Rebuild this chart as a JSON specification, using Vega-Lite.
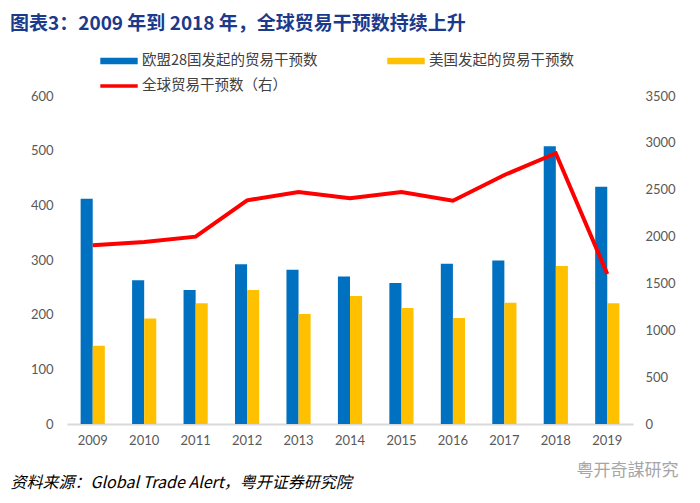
{
  "$schema": "https://vega.github.io/schema/vega-lite/v6.json",
  "width": 566,
  "height": 328,
  "autosize": {"type": "none"},
  "padding": {"left": 67, "top": 96, "right": 67, "bottom": 79},
  "background": "white",
  "title": {
    "text": "图表3：2009 年到 2018 年，全球贸易干预数持续上升",
    "anchor": "start",
    "frame": "group",
    "dx": -57,
    "dy": 19,
    "offset": 36,
    "font": "Noto Sans CJK SC",
    "fontSize": 19,
    "fontWeight": "bold",
    "color": "#1B3A8C"
  },
  "datasets": {
    "bars": [
      {"year": "2009", "series": "欧盟28国发起的贸易干预数", "value": 412},
      {"year": "2010", "series": "欧盟28国发起的贸易干预数", "value": 263},
      {"year": "2011", "series": "欧盟28国发起的贸易干预数", "value": 245},
      {"year": "2012", "series": "欧盟28国发起的贸易干预数", "value": 292},
      {"year": "2013", "series": "欧盟28国发起的贸易干预数", "value": 282},
      {"year": "2014", "series": "欧盟28国发起的贸易干预数", "value": 270},
      {"year": "2015", "series": "欧盟28国发起的贸易干预数", "value": 258},
      {"year": "2016", "series": "欧盟28国发起的贸易干预数", "value": 293},
      {"year": "2017", "series": "欧盟28国发起的贸易干预数", "value": 299},
      {"year": "2018", "series": "欧盟28国发起的贸易干预数", "value": 508},
      {"year": "2019", "series": "欧盟28国发起的贸易干预数", "value": 434},
      {"year": "2009", "series": "美国发起的贸易干预数", "value": 143},
      {"year": "2010", "series": "美国发起的贸易干预数", "value": 193},
      {"year": "2011", "series": "美国发起的贸易干预数", "value": 221},
      {"year": "2012", "series": "美国发起的贸易干预数", "value": 245},
      {"year": "2013", "series": "美国发起的贸易干预数", "value": 201},
      {"year": "2014", "series": "美国发起的贸易干预数", "value": 234},
      {"year": "2015", "series": "美国发起的贸易干预数", "value": 212},
      {"year": "2016", "series": "美国发起的贸易干预数", "value": 194},
      {"year": "2017", "series": "美国发起的贸易干预数", "value": 222},
      {"year": "2018", "series": "美国发起的贸易干预数", "value": 289},
      {"year": "2019", "series": "美国发起的贸易干预数", "value": 221}
    ],
    "total": [
      {"year": "2009", "total": 1907},
      {"year": "2010", "total": 1942},
      {"year": "2011", "total": 1999},
      {"year": "2012", "total": 2387},
      {"year": "2013", "total": 2476},
      {"year": "2014", "total": 2408},
      {"year": "2015", "total": 2476},
      {"year": "2016", "total": 2383},
      {"year": "2017", "total": 2657},
      {"year": "2018", "total": 2889},
      {"year": "2019", "total": 1601}
    ]
  },
  "layer": [
    {
      "data": {"name": "bars"},
      "mark": {"type": "bar"},
      "encoding": {
        "x": {
          "field": "year",
          "type": "nominal",
          "scale": {"paddingInner": 0.53, "paddingOuter": 0.265},
          "axis": {
            "title": "资料来源：Global Trade Alert，粤开证券研究院",
            "titleX": -57,
            "titleY": 58,
            "titleAlign": "left",
            "titleAnchor": "start",
            "titleBaseline": "middle",
            "titleFont": "Noto Sans CJK SC",
            "titleFontSize": 16,
            "titleFontStyle": "italic",
            "titleFontWeight": "normal",
            "titleColor": "#000000",
            "labelAngle": 0,
            "labelPadding": 10,
            "domainColor": "#D9D9D9",
            "domainWidth": 2,
            "ticks": false
          }
        },
        "xOffset": {"field": "series", "type": "nominal", "sort": null, "scale": {"paddingInner": 0}},
        "y": {
          "field": "value",
          "type": "quantitative",
          "scale": {"domain": [0, 600]},
          "axis": {"title": null, "values": [0, 100, 200, 300, 400, 500, 600], "labelPadding": 14}
        },
        "color": {
          "field": "series",
          "type": "nominal",
          "scale": {
            "domain": ["欧盟28国发起的贸易干预数", "美国发起的贸易干预数", "全球贸易干预数（右）"],
            "range": ["#0070C0", "#FFC000", "#FF0000"]
          },
          "legend": {
            "title": null,
            "orient": "none",
            "legendX": 33,
            "legendY": -45,
            "direction": "horizontal",
            "columns": 2,
            "columnPadding": 69,
            "rowPadding": 5,
            "clipHeight": 20,
            "symbolType": "M-1,-0.18H1V0.18H-1Z",
            "symbolSize": 1400,
            "symbolStrokeWidth": 0,
            "symbolOpacity": 1,
            "labelOffset": 4,
            "labelFont": "Noto Sans CJK SC",
            "labelFontSize": 14.5,
            "labelColor": "#404040",
            "labelLimit": 300,
            "encode": {
              "symbols": {
                "update": {
                  "shape": {"signal": "datum.value === '全球贸易干预数（右）' ? 'M-1,-0.1H1V0.1H-1Z' : 'M-1,-0.18H1V0.18H-1Z'"}
                }
              }
            }
          }
        }
      }
    },
    {
      "data": {"name": "total"},
      "mark": {"type": "line", "strokeWidth": 4, "color": "#FF0000"},
      "encoding": {
        "x": {"field": "year", "type": "nominal"},
        "y": {
          "field": "total",
          "type": "quantitative",
          "scale": {"domain": [0, 3500]},
          "axis": {
            "orient": "right",
            "title": "粤开奇謀研究",
            "titleAngle": 0,
            "titleX": -6,
            "titleY": 374,
            "titleAlign": "center",
            "titleBaseline": "middle",
            "titleFont": "Noto Sans CJK SC",
            "titleFontSize": 17,
            "titleFontWeight": "normal",
            "titleColor": "#A6A6A6",
            "values": [0, 500, 1000, 1500, 2000, 2500, 3000, 3500],
            "format": "d",
            "labelPadding": 12
          }
        },
        "color": {"datum": "全球贸易干预数（右）"}
      }
    }
  ],
  "resolve": {"scale": {"y": "independent"}},
  "config": {
    "view": {"stroke": null},
    "axis": {
      "grid": false,
      "labelFont": "Lato",
      "labelFontSize": 13,
      "labelColor": "#595959",
      "ticks": false
    },
    "axisY": {"domain": false}
  }
}
